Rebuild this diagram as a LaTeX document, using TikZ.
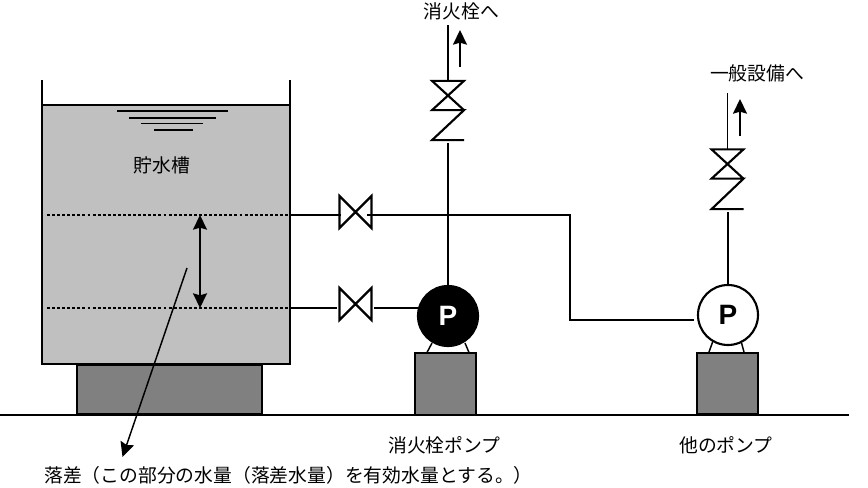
\documentclass[tikz,border=0pt]{standalone}
\usepackage{fontspec}
\setmainfont{Noto Sans CJK JP}
\newfontfamily\pfont{Liberation Sans}
\usetikzlibrary{positioning,calc,arrows.meta}
\definecolor{cwater}{HTML}{C0C0C0}
\definecolor{cbase}{HTML}{808080}
\tikzset{
  pipe/.style={line width=1.1pt},
  valveline/.style={line width=1.6pt,line join=miter},
  valvebox/.style={rectangle,minimum width=24pt,minimum height=24pt,inner sep=0pt,outer sep=0pt},
  stopbox/.style={valvebox,minimum height=22pt},
  basebox/.style={rectangle,draw,line width=1.3pt,fill=cbase,inner sep=0pt,outer sep=0pt},
  pumpcirc/.style={circle,draw,line width=1.6pt,minimum size=45pt,inner sep=0pt,outer sep=0pt,font=\pfont\bfseries\fontsize{21}{21}\selectfont},
  lbl/.style={inner sep=0pt,font=\fontsize{14.1}{15}\selectfont}
}
\begin{document}
\begin{tikzpicture}[x=0.75pt,y=-0.75pt,>={Stealth[length=11pt,width=10.5pt,inset=1.5pt]}]
        \useasboundingbox (0,0) rectangle (868,488);
        % tank and bases
        \node[rectangle,draw,line width=1.6pt,fill=cwater,minimum width=186pt,minimum height=194pt,inner sep=0pt,outer sep=0pt] (tank) at (166,234.5) {};
        \node[basebox,minimum width=138.5pt,minimum height=37pt] (tankbase) at (169.5,389.5) {};
        \node[basebox,minimum width=45.5pt,minimum height=46pt] (baseA) at (445.5,384) {};
        \node[basebox,minimum width=45.5pt,minimum height=46pt] (baseB) at (727.5,383.5) {};
        \coordinate (stubL) at (42,80);
        \coordinate (stubR) at (290,80);
        \draw[pipe] (tank.north west) -- (stubL);
        \draw[pipe] (tank.north east) -- (stubR);
        \coordinate (groundL) at (0,415);
        \coordinate (groundR) at (849,415);
        \draw[line width=1.3pt] (groundL) -- (groundR);
        % water surface
        \foreach \y/\a/\b in {111/117/228,118/129/216,123.5/141/203,130/154/193}{
          \draw[line width=1pt] (\a,\y) -- (\b,\y);}
        \node[lbl] (tanklbl) at (162,165) {貯水槽};
        % levels
        \coordinate (dashAL) at (47,215);
        \coordinate (dashAR) at (tank.east |- dashAL);
        \coordinate (dashBL) at (47,308);
        \coordinate (dashBR) at (tank.east |- dashBL);
        \draw[line width=1pt,dash pattern=on 2.2pt off 1.6pt] (dashAL) -- (dashAR);
        \draw[line width=1pt,dash pattern=on 2.2pt off 1.6pt] (dashBL) -- (dashBR);
        \coordinate (dropT) at (200,215);
        \coordinate (dropB) at (200,308);
        \draw[<->,pipe] (dropT) -- (dropB);
        % pumps
        \node[pumpcirc,fill=black,text=white] (pumpA) at (448,316) {P};
        \node[pumpcirc,fill=white] (pumpB) at (728,315) {P};
        \draw[pipe] (432,343) -- (427,352.5);
        \draw[pipe] (465,343) -- (469,352.5);
        \draw[pipe] (713,341) -- (709,352);
        \draw[pipe] (741,341) -- (744,352);
        % gate valves
        \node[valvebox] (valveA) at (355.5,212) {};
        \node[valvebox] (valveB) at (355.5,304) {};
        \foreach \v in {valveA,valveB}{
          \draw[valveline] (\v.north west) -- (\v.south east) -- (\v.north east) -- (\v.south west) -- cycle;}
        % stop + check valves
        \node[stopbox] (stopA) at (448,95.5) {};
        \node[stopbox] (checkA) at (448,125.5) {};
        \node[stopbox] (stopB) at (727.5,164) {};
        \node[stopbox] (checkB) at (727.5,194.5) {};
        \foreach \s/\c in {stopA/checkA,stopB/checkB}{
          \draw[valveline] (\s.south east) -- (\s.north west) -- (\s.north east) -- (\s.south west) -- (\s.south east) -- (\c.south west) -- (\c.south east);}
        % pipes
        \coordinate (bend1) at (570,215);
        \coordinate (bend2) at (570,320);
        \coordinate (inA) at (341,215);
        \coordinate (outA) at (367,215);
        \coordinate (inB) at (337,308);
        \coordinate (outB) at (374,308);
        \coordinate (pumpBin) at (694,320);
        \coordinate (endA) at (448,25);
        \coordinate (endB) at (727.5,93);
        \draw[pipe] (dashAR) -- (inA);
        \draw[pipe] (outA) -- (bend1) -- (bend2) -- (pumpBin);
        \draw[pipe] (dashBR) -- (inB);
        \draw[pipe] (outB) -- (pumpA.west |- outB);
        \draw[pipe] (pumpA.north) -- ++(0,-143);
        \draw[pipe] (stopA.north) -- (endA);
        \draw[pipe] (pumpB.north) -- ++(0,-73);
        \draw[pipe] (stopB.north) -- (endB);
        % flow arrows
        \coordinate (flowA0) at (460,67);
        \coordinate (flowA1) at (460,30);
        \coordinate (flowB0) at (740,136);
        \coordinate (flowB1) at (740,99);
        \draw[->,pipe] (flowA0) -- (flowA1);
        \draw[->,pipe] (flowB0) -- (flowB1);
        % labels
        \node[lbl] (lblA) at (461.5,11) {消火栓へ};
        \node[lbl] (lblB) at (757,73) {一般設備へ};
        \node[lbl] (lblC) at (444.5,445) {消火栓ポンプ};
        \node[lbl] (lblD) at (726,445) {他のポンプ};
        \node[lbl] (lblE) at (288.5,475) {落差（この部分の水量（落差水量）を有効水量とする。）};
        \coordinate (leader) at (187,268);
        \coordinate (leaderend) at (122.5,457);
        \draw[->,pipe] (leader) -- (leaderend);
      \end{tikzpicture}
\end{document}
